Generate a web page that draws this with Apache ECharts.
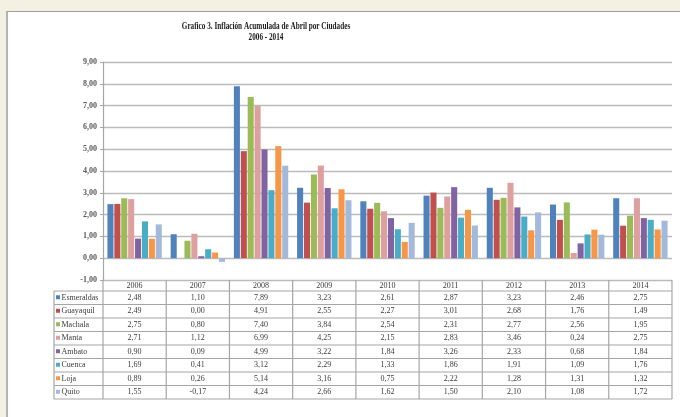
<!DOCTYPE html>
<html><head><meta charset="utf-8">
<script src="https://cdn.jsdelivr.net/npm/echarts@6/dist/echarts.min.js"></script>
<style>
html,body{margin:0;padding:0;background:#F4F0E2;width:680px;height:417px;overflow:hidden}
#panel{position:absolute;left:6px;top:11px;width:700px;height:420px;background:#fff;border-top:1px solid #9c9c9c;border-left:2px solid #b4b4b4;box-sizing:border-box}
#c{position:absolute;left:0;top:0;width:680px;height:417px}
</style></head><body>
<div id="panel"></div><div id="c"></div>
<script>
const years = ['2006','2007','2008','2009','2010','2011','2012','2013','2014'];
const cities = ['Esmeraldas','Guayaquil','Machala','Manta','Ambato','Cuenca','Loja','Quito'];
const colors = ['#4F81BD','#C0504D','#9BBB59','#DDA09F','#8064A2','#4BACC6','#F79646','#A3B9DC'];
const esmeraldas = [2.48,1.10,7.89,3.23,2.61,2.87,3.23,2.46,2.75];
const guayaquil  = [2.49,0.00,4.91,2.55,2.27,3.01,2.68,1.76,1.49];
const machala    = [2.75,0.80,7.40,3.84,2.54,2.31,2.77,2.56,1.95];
const manta      = [2.71,1.12,6.99,4.25,2.15,2.83,3.46,0.24,2.75];
const ambato     = [0.90,0.09,4.99,3.22,1.84,3.26,2.33,0.68,1.84];
const cuenca     = [1.69,0.41,3.12,2.29,1.33,1.86,1.91,1.09,1.76];
const loja       = [0.89,0.26,5.14,3.16,0.75,2.22,1.28,1.31,1.32];
const quito      = [1.55,-0.17,4.24,2.66,1.62,1.50,2.10,1.08,1.72];
const seriesValues = [esmeraldas,guayaquil,machala,manta,ambato,cuenca,loja,quito];
const yMin = -1, yMax = 9, yStep = 1;
const titleLines = ['Grafico 3. Inflación Acumulada de Abril por Ciudades','2006 - 2014'];

const fmt = v => v.toFixed(2).replace('.', ',');
const chart = echarts.init(document.getElementById('c'));
const gridColor = '#BBBBBB';
const tableColor = '#A6A6A6';
chart.setOption({
  animation:false,
  grid:{left:103,right:8,top:62,bottom:137,containLabel:false},
  xAxis:{type:'category',data:years,axisLabel:{show:false},axisTick:{show:false},axisLine:{show:false}},
  yAxis:{type:'value',min:yMin,max:yMax,interval:yStep,
    axisLine:{show:true,lineStyle:{color:tableColor,width:1.2}},
    axisTick:{show:true,length:3,lineStyle:{color:tableColor}},
    splitLine:{lineStyle:{color:gridColor,width:1.4}},
    axisLabel:{formatter:v=>fmt(v),color:'#595959',fontFamily:'Liberation Serif',fontWeight:'bold',fontSize:8,margin:6}},
  series: seriesValues.map((d,i)=>({name:cities[i],type:'bar',data:d,
    barGap:'14%',barCategoryGap:'14%',itemStyle:{color:colors[i]}}))
});

function build(){
  const g = [];
  const font = 'Liberation Serif';
  titleLines.forEach((t,i)=>g.push({type:'text',x:266,y:27+i*11,scaleX:0.76,silent:true,
    style:{text:t,font:'bold 9.5px "'+font+'"',fill:'#1a1a1a',textAlign:'center',textVerticalAlign:'middle'}}));
  const c0 = chart.convertToPixel({xAxisIndex:0},0);
  const c1 = chart.convertToPixel({xAxisIndex:0},1);
  const half = (c1-c0)/2;
  const xL = c0-half;
  const xR = chart.convertToPixel({xAxisIndex:0},years.length-1)+half;
  const yTop = chart.convertToPixel({yAxisIndex:0},yMin);
  const headH = 11, rowH = 13.5, labL = 54;
  const yRow0 = yTop+headH;
  const yBot = yRow0 + rowH*cities.length;
  const line=(x1,y1,x2,y2)=>g.push({type:'line',silent:true,shape:{x1,y1,x2,y2},style:{stroke:tableColor,lineWidth:1.2}});
  for(let k=0;k<=cities.length;k++) line(labL,yRow0+k*rowH,xR,yRow0+k*rowH);
  line(labL,yRow0,labL,yBot);
  for(let j=0;j<=years.length;j++){const x=xL+j*2*half; line(x,yTop,x,yBot);}
  years.forEach((y,j)=>{
    g.push({type:'text',silent:true,x:xL+(j+0.5)*2*half,y:yTop+headH/2+0.5,
      style:{text:y,font:'8px "'+font+'"',fill:'#3a3a3a',textAlign:'center',textVerticalAlign:'middle'}});
  });
  cities.forEach((cName,i)=>{
    const yc = yRow0+(i+0.5)*rowH;
    g.push({type:'rect',silent:true,shape:{x:56,y:yc-2.5,width:4,height:4},style:{fill:colors[i]}});
    g.push({type:'text',silent:true,x:61.5,y:yc,style:{text:cName,font:'8px "'+font+'"',fill:'#3a3a3a',textAlign:'left',textVerticalAlign:'middle'}});
    seriesValues[i].forEach((v,j)=>{
      g.push({type:'text',silent:true,x:xL+(j+0.5)*2*half,y:yc,
        style:{text:fmt(v),font:'8px "'+font+'"',fill:'#3a3a3a',textAlign:'center',textVerticalAlign:'middle'}});
    });
  });
  chart.setOption({graphic:{elements:g}});
}
build();
</script>
</body></html>
